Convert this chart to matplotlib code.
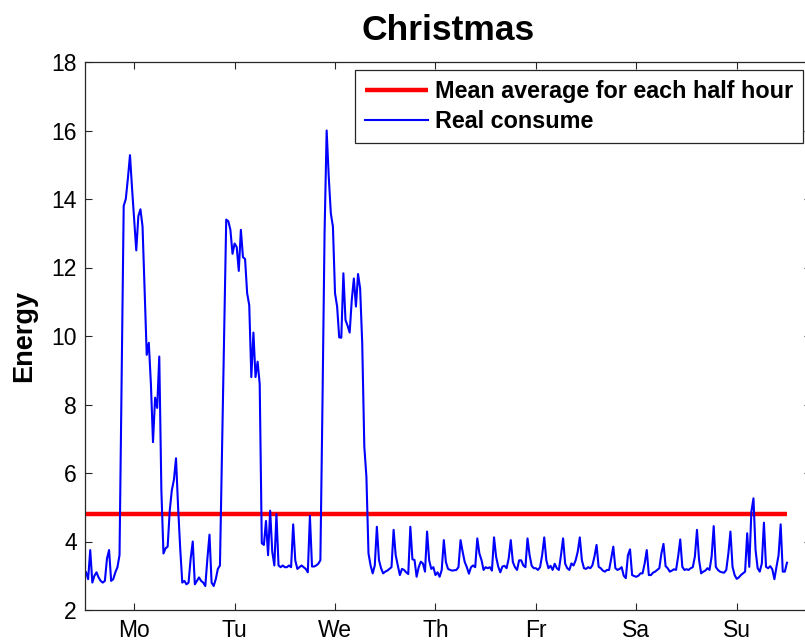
import matplotlib
matplotlib.use("Agg")
import matplotlib.pyplot as plt
import numpy as np

plt.rcParams['font.family'] = ['Liberation Sans', 'DejaVu Sans']

title = "Christmas"
ylabel = "Energy"
day_labels = ["Mo", "Tu", "We", "Th", "Fr", "Sa", "Su"]
legend_labels = ["Mean average for each half hour", "Real consume"]
mean_value = 4.8

mon = [3.1, 2.9, 3.75, 2.8, 3.0, 3.1, 2.95, 2.85, 2.8, 2.85, 3.5, 3.75,
       2.85, 2.9, 3.1, 3.25, 3.6, 8.7, 13.8, 14.0, 14.6, 15.28, 14.3, 13.4,
       12.5, 13.5, 13.7, 13.2, 11.3, 9.45, 9.8, 8.6, 6.9, 8.2, 7.9, 9.4,
       5.5, 3.65, 3.8, 3.85, 4.9, 5.5, 5.8, 6.43, 5.0, 3.8, 2.8, 2.85]
tue = [2.75, 2.8, 3.5, 4.0, 2.75, 2.85, 2.95, 2.85, 2.8, 2.7, 3.5, 4.2,
       2.8, 2.7, 2.9, 3.2, 3.3, 6.7, 10.0, 13.4, 13.35, 13.1, 12.4, 12.7,
       12.6, 11.9, 13.1, 12.3, 12.25, 11.25, 10.9, 8.8, 10.1, 8.8, 9.25, 8.6,
       3.95, 3.9, 4.6, 3.6, 4.9, 3.7, 3.3, 4.8, 3.3, 3.25, 3.3, 3.25]
wed = [3.25, 3.3, 3.25, 4.5, 3.45, 3.2, 3.25, 3.3, 3.25, 3.2, 3.1, 4.75,
       3.27, 3.27, 3.3, 3.35, 3.45, 8.0, 13.0, 16.0, 14.65, 13.58, 13.19, 11.25,
       10.86, 9.96, 9.95, 11.83, 10.47, 10.3, 10.1, 11.05, 11.68, 10.86, 11.81, 11.39,
       9.79, 6.77, 5.89, 3.65, 3.3, 3.07, 3.3, 4.43, 3.46, 3.22, 3.07, 3.12]
thu = [3.15, 3.2, 3.25, 4.34, 3.6, 3.3, 3.02, 3.2, 3.17, 3.1, 3.05, 4.43,
       3.48, 3.46, 2.97, 3.25, 3.41, 3.36, 3.12, 4.29, 3.45, 3.2, 3.25, 3.02,
       3.1, 2.97, 3.17, 4.04, 3.4, 3.2, 3.17, 3.15, 3.16, 3.17, 3.25, 4.04,
       3.7, 3.4, 3.25, 3.06, 3.25, 3.3, 3.25, 4.09, 3.65, 3.46, 3.17, 3.25]
fri = [3.22, 3.25, 3.15, 4.12, 3.55, 3.27, 3.1, 3.27, 3.29, 3.22, 3.5, 4.04,
       3.4, 3.25, 3.17, 3.45, 3.45, 3.3, 3.25, 4.09, 3.6, 3.29, 3.22, 3.22,
       3.17, 3.25, 3.6, 4.12, 3.45, 3.22, 3.29, 3.17, 3.35, 3.22, 3.17, 3.6,
       4.09, 3.35, 3.22, 3.17, 3.36, 3.3, 3.45, 3.7, 4.12, 3.45, 3.22, 3.2]
sat = [3.25, 3.22, 3.3, 3.56, 3.9, 3.26, 3.22, 3.15, 3.12, 3.17, 3.17, 3.5,
       3.85, 3.22, 3.17, 3.2, 3.25, 3.0, 2.93, 3.6, 3.77, 3.02, 2.99, 2.97,
       3.0, 3.07, 3.07, 3.36, 3.75, 3.02, 3.02, 3.09, 3.12, 3.17, 3.22, 3.65,
       3.93, 3.28, 3.22, 3.12, 3.15, 3.19, 3.17, 3.56, 4.06, 3.26, 3.17, 3.19]
sun = [3.17, 3.22, 3.25, 3.56, 4.34, 3.46, 3.07, 3.12, 3.15, 3.22, 3.17, 3.56,
       4.45, 3.26, 3.17, 3.12, 3.1, 3.09, 3.17, 3.65, 4.29, 3.26, 3.02, 2.91,
       2.95, 3.02, 3.07, 3.12, 4.24, 3.26, 4.87, 5.26, 3.75, 3.22, 3.12, 3.36,
       4.55, 3.26, 3.22, 3.28, 3.19, 2.9, 3.26, 3.6, 4.5, 3.12, 3.12, 3.38]

consumption = mon + tue + wed + thu + fri + sat + sun
n = len(consumption)
x = np.arange(1, n + 1)
tick_pos = [24 + 48 * k for k in range(7)]

fig = plt.figure(figsize=(8.05, 6.41), dpi=100)
ax = fig.add_axes([85 / 805, 31 / 641, 726 / 805, 548 / 641])

ax.plot(x, np.full(n, mean_value), color='#ff0000', lw=3.2,
        label=legend_labels[0], solid_capstyle='butt')
ax.plot(x, consumption, color='#0000ff', lw=1.5, label=legend_labels[1])

ax.set_xlim(0.5, 347.5)
ax.set_ylim(2, 18)
ax.set_yticks(np.arange(2, 19, 2))
ax.set_xticks(tick_pos)
ax.set_xticklabels(day_labels)
ax.tick_params(direction='in', top=True, right=True, length=5, width=0.8,
               labelsize=16.5, pad=6, colors='#262626', labelcolor='black')
ax.tick_params(axis='x', pad=6.5)
for s in ax.spines.values():
    s.set_color('#262626')
    s.set_linewidth(0.9)

ax.set_title(title, fontsize=25.5, fontweight='bold', pad=16)
ax.set_ylabel(ylabel, fontsize=19.5, fontweight='bold', labelpad=10)

leg = ax.legend(loc='upper right', prop={'weight': 'bold', 'size': 16.8},
                fancybox=False, framealpha=1, edgecolor='#262626',
                handlelength=2.7, handletextpad=0.3, labelspacing=0.32,
                borderpad=0.42, borderaxespad=0.35)
leg.get_frame().set_linewidth(0.9)

fig.savefig("out.png", dpi=100)
